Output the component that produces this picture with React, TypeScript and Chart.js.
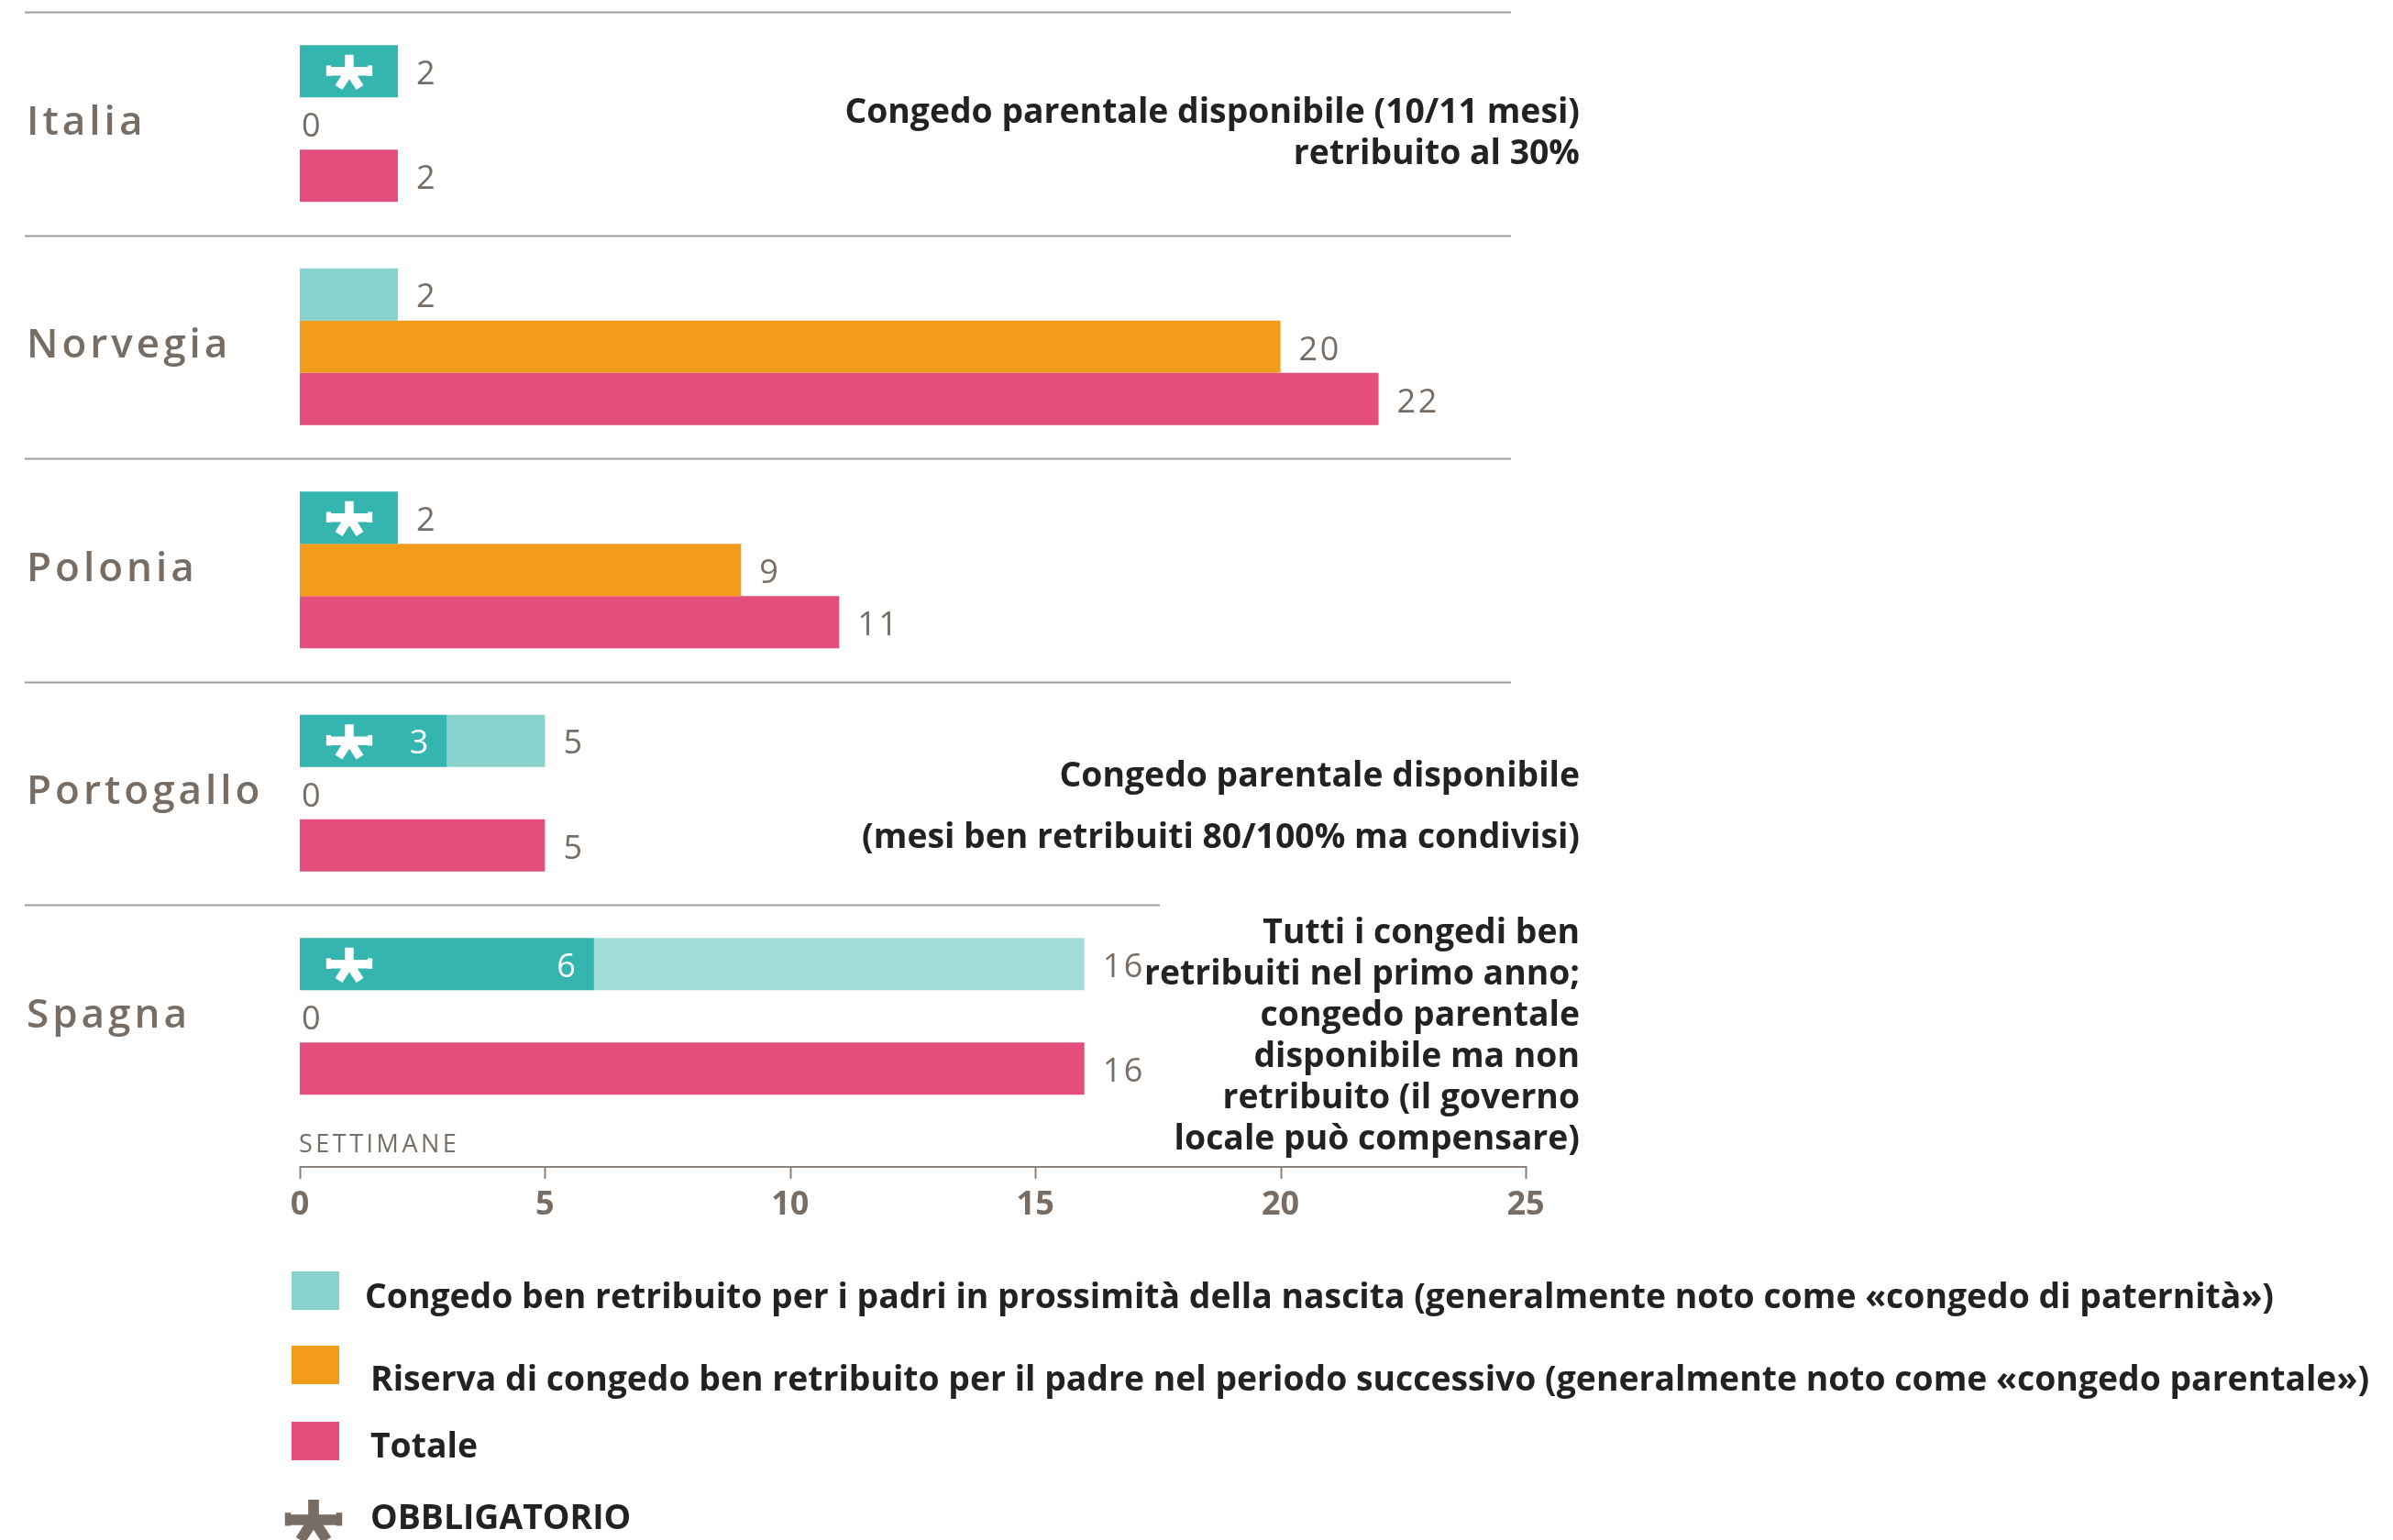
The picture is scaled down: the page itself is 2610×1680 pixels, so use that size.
import { useEffect, useRef } from "react";
import { Chart, registerables } from "chart.js";

Chart.register(...registerables);

// ---------------- data ----------------
const countries = ["Italia", "Norvegia", "Polonia", "Portogallo", "Spagna"];
const paternityTotal = [2, 2, 2, 5, 16];
const paternityMandatory = [2, 0, 2, 3, 6];
const fatherQuota = [0, 20, 9, 0, 0];
const totalWeeks = [2, 22, 11, 5, 16];
const xTickValues = [0, 5, 10, 15, 20, 25];
const axisTitle = "SETTIMANE";
const legendItems = [
  "Congedo ben retribuito per i padri in prossimità della nascita (generalmente noto come «congedo di paternità»)",
  "Riserva di congedo ben retribuito per il padre nel periodo successivo (generalmente noto come «congedo parentale»)",
  "Totale",
];
const mandatoryLabel = "OBBLIGATORIO";
const noteItalia = ["Congedo parentale disponibile (10/11 mesi)", "retribuito al 30%"];
const notePortogallo = ["Congedo parentale disponibile", "(mesi ben retribuiti 80/100% ma condivisi)"];
const noteSpagna = [
  "Tutti i congedi ben",
  "retribuiti nel primo anno;",
  "congedo parentale",
  "disponibile ma non",
  "retribuito (il governo",
  "locale può compensare)",
];

// ---------------- styles / layout ----------------
const W = 2610;
const H = 1680;
const C_MAND = "#35b5b0";
const C_OPT = ["#89d3cf", "#89d3cf", "#89d3cf", "#89d3cf", "#a3dedb"];
const C_ORANGE = "#f39c1c";
const C_PINK = "#e34e7c";
const C_GREY = "#776d64";
const C_DARK = "#242122";
const C_SEP = "#a19b96";
const FONT = "'Open Sans', 'Noto Sans', sans-serif";

const noteLayout = [
  { lines: noteItalia, top: 123, step: 45 },
  { lines: notePortogallo, top: 847, step: 67 },
  { lines: noteSpagna, top: 1018, step: 45 },
];
const NOTE_RIGHT = 1723;
const SEP_LEFT = 27;
const SEP_RIGHT = 1648;
const SEP_RIGHT_LAST = 1265;
const AXIS_Y = 1273;
const legendSwatches = [
  { color: C_OPT[0], top: 1387, textX: 398, textY: 1416 },
  { color: C_ORANGE, top: 1468, textX: 404, textY: 1506 },
  { color: C_PINK, top: 1551, textX: 404, textY: 1579 },
];

function drawAsterisk(ctx: CanvasRenderingContext2D, cx: number, cy: number, s: number, color: string) {
  ctx.save();
  ctx.translate(cx, cy);
  ctx.scale(s, s);
  ctx.strokeStyle = color;
  ctx.fillStyle = color;
  ctx.lineWidth = 9;
  ctx.lineCap = "butt";
  const arms = [
    [0, -17],
    [-23, 0],
    [23, 0],
    [-11, 17],
    [11, 17],
  ];
  ctx.beginPath();
  for (const [ax, ay] of arms) {
    ctx.moveTo(0, 0);
    ctx.lineTo(ax, ay);
  }
  ctx.stroke();
  ctx.fillRect(-24, -6, 5, 11);
  ctx.fillRect(19, -6, 5, 11);
  ctx.beginPath();
  ctx.arc(0, 0, 6, 0, Math.PI * 2);
  ctx.fill();
  ctx.restore();
}

function condensedText(
  ctx: CanvasRenderingContext2D,
  text: string,
  x: number,
  y: number,
  align: CanvasTextAlign,
  sx: number
) {
  ctx.save();
  ctx.translate(x, y);
  ctx.scale(sx, 1);
  ctx.textAlign = align;
  ctx.fillText(text, 0, 0);
  ctx.restore();
}

const overlayPlugin = {
  id: "overlay",
  beforeDatasetsDraw(chart: any) {
    const ctx: CanvasRenderingContext2D = chart.ctx;
    const y = chart.scales.y;
    const band = y.getPixelForValue(1) - y.getPixelForValue(0);
    ctx.save();
    ctx.strokeStyle = C_SEP;
    ctx.lineWidth = 2;
    countries.forEach((_, i) => {
      const py = Math.round(y.getPixelForValue(i) - band / 2) + 0.5;
      ctx.beginPath();
      ctx.moveTo(SEP_LEFT, py);
      ctx.lineTo(i === countries.length - 1 ? SEP_RIGHT_LAST : SEP_RIGHT, py);
      ctx.stroke();
    });
    ctx.restore();
  },
  afterDatasetsDraw(chart: any) {
    const ctx: CanvasRenderingContext2D = chart.ctx;
    const xs = chart.scales.x;
    const ys = chart.scales.y;
    const mMand = chart.getDatasetMeta(0).data;
    const mOpt = chart.getDatasetMeta(1).data;
    const mRes = chart.getDatasetMeta(2).data;
    const mTot = chart.getDatasetMeta(3).data;
    const x0 = xs.getPixelForValue(0);

    ctx.save();
    // value labels
    ctx.font = `400 36px ${FONT}`;
    ctx.textBaseline = "middle";
    const dy = 4;
    countries.forEach((_, i) => {
      ctx.fillStyle = C_GREY;
      ctx.textAlign = "left";
      (ctx as any).letterSpacing = "2.5px";
      ctx.fillText(String(paternityTotal[i]), mOpt[i].x + 20, mOpt[i].y + dy);
      if (fatherQuota[i] === 0) ctx.fillText("0", x0 + 2, mRes[i].y + dy);
      else ctx.fillText(String(fatherQuota[i]), mRes[i].x + 20, mRes[i].y + dy);
      ctx.fillText(String(totalWeeks[i]), mTot[i].x + 20, mTot[i].y + dy);
      (ctx as any).letterSpacing = "0px";
      if (paternityMandatory[i] > 0) {
        if (paternityMandatory[i] < paternityTotal[i]) {
          ctx.fillStyle = "#ffffff";
          ctx.textAlign = "right";
          ctx.fillText(String(paternityMandatory[i]), mMand[i].x - 20, mMand[i].y + dy);
        }
        drawAsterisk(ctx, x0 + 54, mMand[i].y, 1.05, "#ffffff");
      }
    });

    // country labels
    ctx.font = `600 44px ${FONT}`;
    ctx.fillStyle = C_GREY;
    ctx.textAlign = "left";
    ctx.textBaseline = "alphabetic";
    (ctx as any).letterSpacing = "4px";
    countries.forEach((c, i) => {
      ctx.fillText(c, SEP_LEFT + 2, ys.getPixelForValue(i) + 12);
    });

    // axis title
    ctx.font = `400 27px ${FONT}`;
    (ctx as any).letterSpacing = "3.5px";
    ctx.textBaseline = "middle";
    ctx.fillText(axisTitle, x0 - 1, 1249);
    (ctx as any).letterSpacing = "0px";

    // axis line & ticks
    ctx.strokeStyle = "#8a827b";
    ctx.lineWidth = 2;
    ctx.beginPath();
    ctx.moveTo(x0, AXIS_Y);
    ctx.lineTo(xs.getPixelForValue(25), AXIS_Y);
    xTickValues.forEach((v) => {
      const px = Math.round(xs.getPixelForValue(v)) + 0.5;
      ctx.moveTo(px, AXIS_Y - 1);
      ctx.lineTo(px, AXIS_Y + 13);
    });
    ctx.stroke();

    // bold condensed texts
    ctx.font = `700 38px ${FONT}`;
    const sx = 2082 / ctx.measureText(legendItems[0]).width;
    ctx.fillStyle = C_DARK;
    ctx.textBaseline = "middle";
    noteLayout.forEach((n) => {
      n.lines.forEach((line, k) => {
        condensedText(ctx, line, NOTE_RIGHT, n.top + k * n.step, "right", sx);
      });
    });

    // legend
    legendSwatches.forEach((sw, k) => {
      ctx.fillStyle = sw.color;
      ctx.fillRect(318, sw.top, 52, 42);
      ctx.fillStyle = C_DARK;
      condensedText(ctx, legendItems[k], sw.textX, sw.textY, "left", sx);
    });
    drawAsterisk(ctx, 342, 1658, 1.3, C_GREY);
    ctx.fillStyle = C_DARK;
    condensedText(ctx, mandatoryLabel, 404, 1657, "left", sx);
    ctx.restore();
  },
};

export default function App() {
  const ref = useRef<HTMLCanvasElement>(null);
  useEffect(() => {
    const canvas = ref.current!;
    const barOpts = { categoryPercentage: 0.703, barPercentage: 1 };
    const chart = new Chart(canvas, {
      type: "bar",
      data: {
        labels: countries,
        datasets: [
          { label: legendItems[0] + " (" + mandatoryLabel + ")", data: paternityMandatory, backgroundColor: C_MAND, stack: "p", ...barOpts },
          { label: legendItems[0], data: paternityTotal.map((t, i) => t - paternityMandatory[i]), backgroundColor: C_OPT, stack: "p", ...barOpts },
          { label: legendItems[1], data: fatherQuota, backgroundColor: C_ORANGE, stack: "r", ...barOpts },
          { label: legendItems[2], data: totalWeeks, backgroundColor: C_PINK, stack: "t", ...barOpts },
        ],
      },
      options: {
        indexAxis: "y",
        responsive: false,
        animation: false,
        devicePixelRatio: 1,
        layout: { padding: { left: 327, right: 946, top: 13, bottom: 349.5 } },
        plugins: { legend: { display: false }, tooltip: { enabled: false } },
        scales: {
          x: {
            type: "linear",
            min: 0,
            max: 25,
            stacked: true,
            position: "bottom",
            afterBuildTicks: (s: any) => {
              s.ticks = xTickValues.map((v) => ({ value: v }));
            },
            afterFit: (s: any) => {
              s.height = 100;
            },
            ticks: {
              font: { family: FONT, size: 36, weight: "700" },
              color: C_GREY,
              padding: 63,
              maxRotation: 0,
              autoSkip: false,
            },
            grid: { display: false, drawTicks: false },
            border: { display: false },
          },
          y: {
            type: "category",
            stacked: true,
            display: false,
            offset: true,
          },
        },
      } as any,
      plugins: [overlayPlugin],
    });
    return () => chart.destroy();
  }, []);
  return (
    <div style={{ position: "absolute", left: 0, top: 0, width: W, height: H, background: "#ffffff" }}>
      <canvas ref={ref} width={W} height={H} style={{ display: "block", width: W, height: H }} />
    </div>
  );
}
